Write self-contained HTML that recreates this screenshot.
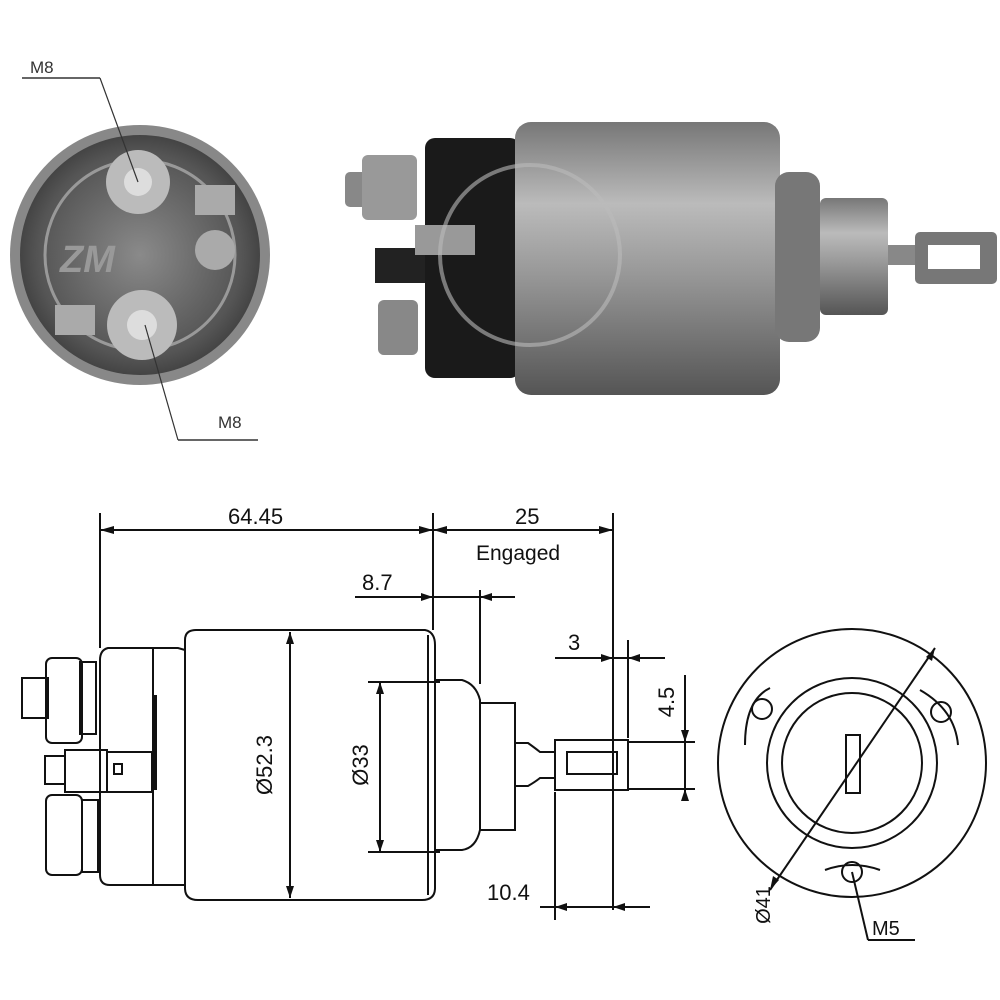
<!DOCTYPE html>
<html><head><meta charset="utf-8"><style>html,body{margin:0;background:#fff}svg{display:block}</style></head><body>
<svg width="1000" height="1000" viewBox="0 0 1000 1000" xmlns="http://www.w3.org/2000/svg" font-family="Liberation Sans, sans-serif">
<defs>
<linearGradient id="cyl" x1="0" y1="0" x2="0" y2="1">
<stop offset="0" stop-color="#777"/><stop offset="0.3" stop-color="#bbb"/><stop offset="0.55" stop-color="#999"/><stop offset="1" stop-color="#555"/></linearGradient>
<radialGradient id="face" cx="0.5" cy="0.5" r="0.5"><stop offset="0" stop-color="#8a8a8a"/><stop offset="0.85" stop-color="#555"/><stop offset="1" stop-color="#444"/></radialGradient>
</defs>
<ellipse cx="140" cy="255" rx="130" ry="130" fill="#888"/>
<ellipse cx="140" cy="255" rx="120" ry="120" fill="url(#face)"/>
<ellipse cx="140" cy="255" rx="95" ry="95" fill="none" stroke="#999" stroke-width="3"/>
<circle cx="138" cy="182" r="32" fill="#bbb"/><circle cx="138" cy="182" r="14" fill="#ddd"/>
<circle cx="142" cy="325" r="35" fill="#bbb"/><circle cx="142" cy="325" r="15" fill="#ddd"/>
<rect x="195" y="185" width="40" height="30" fill="#aaa"/><circle cx="215" cy="250" r="20" fill="#aaa"/>
<rect x="55" y="305" width="40" height="30" fill="#aaa"/>
<text x="60" y="272" font-size="38" font-weight="bold" fill="#999" font-style="italic">ZM</text>
<line x1="22" y1="78" x2="100" y2="78" stroke="#333" stroke-width="1.5"/>
<line x1="100" y1="78" x2="138" y2="182" stroke="#333" stroke-width="1.2"/>
<text x="30" y="73" font-size="17" fill="#333">M8</text>
<line x1="178" y1="440" x2="258" y2="440" stroke="#333" stroke-width="1.5"/>
<line x1="178" y1="440" x2="145" y2="325" stroke="#333" stroke-width="1.2"/>
<text x="218" y="428" font-size="17" fill="#333">M8</text>
<rect x="345" y="172" width="25" height="35" rx="5" fill="#888"/>
<rect x="362" y="155" width="55" height="65" rx="6" fill="#999"/>
<rect x="378" y="300" width="40" height="55" rx="6" fill="#888"/>
<rect x="375" y="248" width="50" height="35" fill="#222"/>
<rect x="425" y="138" width="95" height="240" rx="10" fill="#1a1a1a"/>
<rect x="415" y="225" width="60" height="30" fill="#999"/>
<rect x="515" y="122" width="265" height="273" rx="16" fill="url(#cyl)"/>
<rect x="775" y="172" width="45" height="170" rx="14" fill="#777"/>
<rect x="820" y="198" width="68" height="117" rx="6" fill="url(#cyl)"/>
<rect x="888" y="245" width="30" height="20" fill="#888"/>
<rect x="915" y="232" width="82" height="52" rx="5" fill="#777"/>
<rect x="928" y="245" width="52" height="24" fill="#fff"/>
<circle cx="530" cy="255" r="90" fill="none" stroke="#bbb" stroke-width="4" opacity="0.6"/>
<g stroke="#111" stroke-width="2" fill="none">
<line x1="100" y1="513" x2="100" y2="648"/>
<line x1="433" y1="513" x2="433" y2="630"/>
<line x1="613" y1="513" x2="613" y2="910"/>
<line x1="100" y1="530" x2="433" y2="530"/>
<line x1="433" y1="530" x2="613" y2="530"/>
<line x1="355" y1="597" x2="515" y2="597"/>
<line x1="480" y1="590" x2="480" y2="684"/>
<line x1="555" y1="658" x2="665" y2="658"/>
<line x1="628" y1="640" x2="628" y2="738"/>
<line x1="540" y1="907" x2="650" y2="907"/>
<line x1="555" y1="792" x2="555" y2="920"/>
<line x1="685" y1="675" x2="685" y2="800"/>
<line x1="628" y1="742" x2="695" y2="742"/>
<line x1="628" y1="789" x2="695" y2="789"/>
<path d="M185 640 Q185 630 196 630 L425 630 Q435 632 435 645 L435 888 Q435 900 422 900 L198 900 Q185 900 185 888 Z"/>
<line x1="428" y1="635" x2="428" y2="895"/>
<path d="M185 650 L178 648 L108 648 Q100 650 100 660 L100 875 Q100 885 110 885 L185 885"/>
<line x1="153" y1="648" x2="153" y2="885"/>
<path d="M435 680 L462 680 Q476 684 480 700 L480 830 Q476 848 462 850 L435 850"/>
<rect x="480" y="703" width="35" height="127"/>
<path d="M515 743 L528 743 Q535 748 540 752 L555 752 L555 778 L540 778 Q535 782 528 786 L515 786 Z"/>
<rect x="555" y="740" width="73" height="50"/>
<rect x="567" y="752" width="50" height="22"/>
<line x1="290" y1="632" x2="290" y2="898"/>
<line x1="380" y1="682" x2="380" y2="852"/>
<line x1="368" y1="682" x2="440" y2="682"/>
<line x1="368" y1="852" x2="440" y2="852"/>
<rect x="46" y="658" width="36" height="85" rx="6"/>
<rect x="22" y="678" width="26" height="40"/>
<rect x="80" y="662" width="16" height="72"/>
<rect x="45" y="756" width="20" height="28"/>
<rect x="65" y="750" width="42" height="42"/>
<rect x="107" y="752" width="45" height="40"/>
<rect x="114" y="764" width="8" height="10"/>
<rect x="46" y="795" width="36" height="80" rx="6"/>
<rect x="82" y="800" width="16" height="72"/>
<line x1="155" y1="695" x2="155" y2="790" stroke-width="4"/>
<circle cx="852" cy="763" r="134"/>
<circle cx="852" cy="763" r="85"/>
<circle cx="852" cy="763" r="70"/>
<rect x="846" y="735" width="14" height="58"/>
<circle cx="762" cy="709" r="10"/>
<circle cx="941" cy="712" r="10"/>
<circle cx="852" cy="872" r="10"/>
<line x1="935" y1="648" x2="770" y2="890"/>
<path d="M745 745 Q745 700 770 688"/>
<path d="M920 690 Q955 710 958 745"/>
<path d="M825 870 Q852 860 880 870"/>
<line x1="852" y1="872" x2="868" y2="940"/>
<line x1="868" y1="940" x2="915" y2="940"/>
</g>
<g fill="#111">
<path d="M100 530 l14 -4 v8 z"/><path d="M433 530 l-14 -4 v8 z"/>
<path d="M433 530 l14 -4 v8 z"/><path d="M613 530 l-14 -4 v8 z"/>
<path d="M433 597 l-12 -4 v8 z"/><path d="M480 597 l12 -4 v8 z"/>
<path d="M613 658 l-12 -4 v8 z"/><path d="M628 658 l12 -4 v8 z"/>
<path d="M685 742 l-4 -12 h8 z"/><path d="M685 789 l-4 12 h8 z"/>
<path d="M555 907 l12 -4 v8 z"/><path d="M613 907 l12 -4 v8 z"/>
<path d="M290 632 l-4 12 h8 z"/><path d="M290 898 l-4 -12 h8 z"/>
<path d="M380 682 l-4 12 h8 z"/><path d="M380 852 l-4 -12 h8 z"/>
<path d="M935 648 l-9 9 6 4 z"/><path d="M770 890 l9 -10 -6 -4 z"/>
</g>
<g font-size="22" fill="#111">
<text x="228" y="524">64.45</text>
<text x="515" y="524">25</text>
<text x="476" y="560" font-size="21">Engaged</text>
<text x="362" y="590">8.7</text>
<text x="568" y="650">3</text>
<text x="674" y="702" transform="rotate(-90 674 702)" text-anchor="middle">4.5</text>
<text x="487" y="900">10.4</text>
<text x="272" y="765" transform="rotate(-90 272 765)" text-anchor="middle">Ø52.3</text>
<text x="368" y="765" transform="rotate(-90 368 765)" text-anchor="middle">Ø33</text>
<text x="770" y="905" transform="rotate(-90 770 905)" text-anchor="middle" font-size="20">Ø41</text>
<text x="872" y="935" font-size="20">M5</text>
</g>
</svg>
</body></html>
